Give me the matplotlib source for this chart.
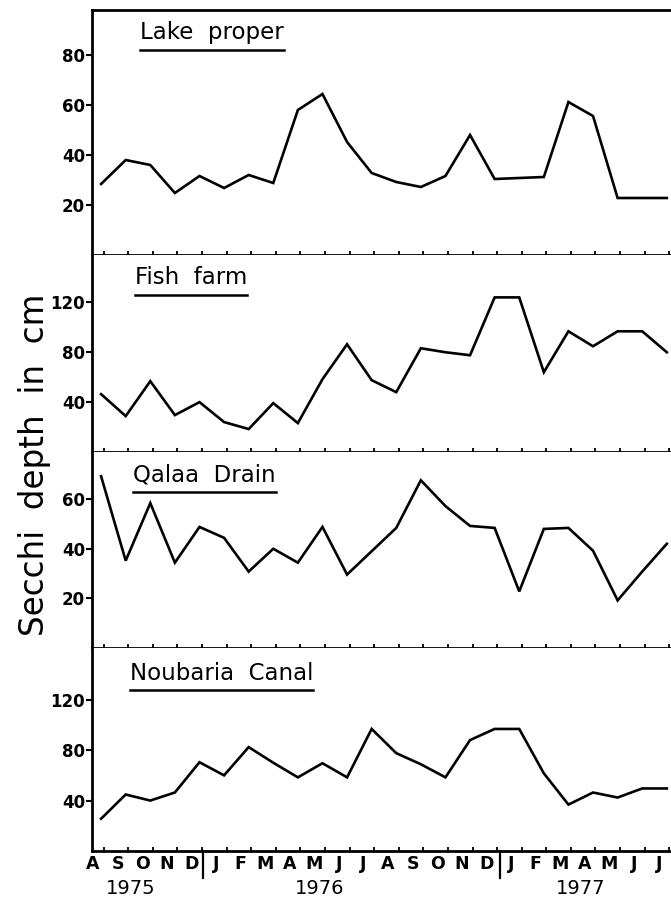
import matplotlib
matplotlib.use("Agg")
import matplotlib.pyplot as plt
from matplotlib.lines import Line2D
import matplotlib.transforms as mtransforms

months = ['A', 'S', 'O', 'N', 'D', 'J', 'F', 'M', 'A', 'M', 'J', 'J',
          'A', 'S', 'O', 'N', 'D', 'J', 'F', 'M', 'A', 'M', 'J', 'J']
years = ['1975', '1976', '1977']

lake_proper = [28.4, 38, 36, 24.8, 31.6, 26.8, 32, 28.8, 58, 64.4, 45.2, 32.8,
               29.2, 27.2, 31.6, 48, 30.4, 30.8, 31.2, 61.2, 55.6, 22.8, 22.8, 22.8]
fish_farm = [46.4, 28.8, 56.8, 29.6, 40, 24, 18.4, 39.2, 23.2, 58.4, 86.4, 57.6,
             48, 83.2, 80, 77.6, 124, 124, 64, 96.8, 84.8, 96.8, 96.8, 80]
qalaa_drain = [69.2, 35.2, 58.4, 34.4, 48.8, 44.4, 30.8, 40, 34.4, 48.8, 29.6, 39,
               48.4, 67.6, 57.2, 49.2, 48.4, 22.8, 48, 48.4, 39.2, 19.2, 30.8, 42]
noubaria_canal = [25.6, 44.8, 40, 46.4, 70.4, 60, 82.4, 70, 58.4, 69.6, 58.4, 96.8,
                  77.6, 68.8, 58.4, 88, 96.8, 96.8, 61.6, 36.8, 46.4, 42.4, 49.6, 49.6]

titles = ['Lake  proper', 'Fish  farm', 'Qalaa  Drain', 'Noubaria  Canal']
series = [lake_proper, fish_farm, qalaa_drain, noubaria_canal]
yticks = [[20, 40, 60, 80], [40, 80, 120], [20, 40, 60], [40, 80, 120]]
ylims = [(0, 98), (0, 158), (0, 79), (0, 161)]

W, H = 671, 908
fig = plt.figure(figsize=(W / 100, H / 100), dpi=100)

# panel pixel boundaries (top, bottom)
bounds = [(10, 255), (255, 452), (452, 648), (648, 851)]
title_px = [(140, 33), (135, 278), (133, 475), (130, 673)]
left_px, right_px = 92, 671

x = list(range(len(months)))
axes = []
for i, (top, bot) in enumerate(bounds):
    ax = fig.add_axes([left_px / W, 1 - bot / H, (right_px - left_px) / W, (bot - top) / H])
    axes.append(ax)
    ax.plot(x, series[i], color='black', lw=1.9, solid_joinstyle='miter')
    ax.set_xlim(-0.37, 23.17)
    ax.set_ylim(*ylims[i])
    ax.set_yticks(yticks[i])
    ax.set_yticklabels([str(v) for v in yticks[i]], fontsize=12, fontweight='bold')
    ax.tick_params(axis='y', direction='out', length=4, width=1.5, pad=1)
    for s in ['left', 'bottom', 'top']:
        ax.spines[s].set_linewidth(2)
    ax.spines['right'].set_visible(False)
    if i > 0:
        ax.spines['top'].set_visible(False)
    ax.set_xticks([k + 0.1 for k in x], minor=True)
    ax.tick_params(axis='x', which='minor', direction='in', length=3, width=1.3)
    if i < 3:
        ax.set_xticks([])
    else:
        ax.set_xticks([k - 0.33 for k in x])
        ax.set_xticklabels(months, fontsize=12.5, fontweight='bold')
        ax.tick_params(axis='x', which='major', length=0, pad=3)
    tx, ty = title_px[i]
    fig.text(tx / W, 1 - ty / H, titles[i], fontsize=16.5, ha='left', va='center')

# year labels
ax = axes[-1]
trans = mtransforms.blended_transform_factory(ax.transData, fig.transFigure)
for yr, pos in zip(years, [1.22, 8.9, 19.5]):
    ax.text(pos, 1 - 888 / H, yr, transform=trans, fontsize=14, ha='center', va='center')
# year dividers
for pos in [4.15, 16.2]:
    ax.add_line(Line2D([pos, pos], [1 - 851 / H, 1 - 878 / H], transform=trans,
                       color='black', lw=1.6, clip_on=False))

fig.text(35 / W, 1 - 465 / H, 'Secchi  depth  in  cm', rotation=90, fontsize=23.5,
         ha='center', va='center')

# underline titles
fig.canvas.draw()
r = fig.canvas.get_renderer()
for t in list(fig.texts):
    if t.get_text() in titles:
        bb = t.get_window_extent(renderer=r)
        yline = bb.y0 - 5
        fig.add_artist(Line2D([bb.x0 / W, bb.x1 / W], [yline / H, yline / H],
                              transform=fig.transFigure, color='black', lw=1.8))

fig.savefig('out.png', dpi=100, facecolor='white')
